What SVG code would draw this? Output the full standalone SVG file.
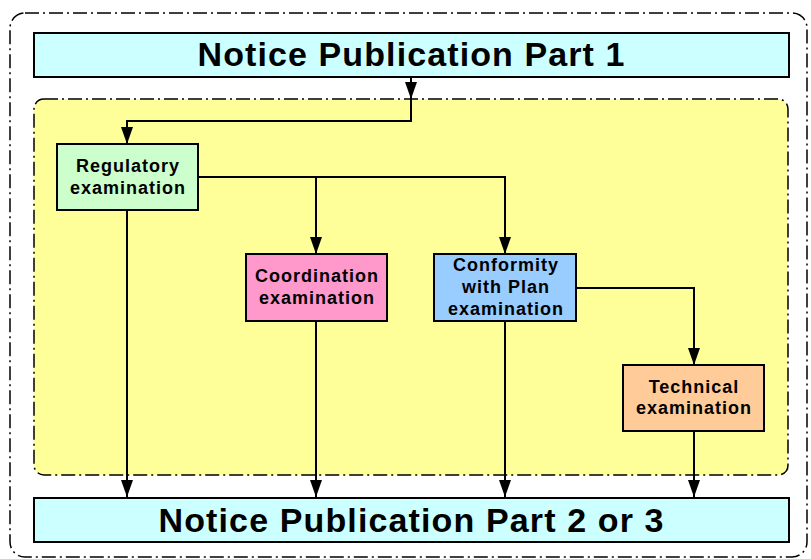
<svg xmlns="http://www.w3.org/2000/svg" width="811" height="559" viewBox="0 0 811 559">
<style>
.frame{fill:none;stroke:#000;stroke-width:1.5;stroke-dasharray:14 4 2 4}
.zone{fill:#ffff99;stroke:#000;stroke-width:1.5;stroke-dasharray:14 4 2 4}
.box{stroke:#000;stroke-width:2}
.big{font-family:"Liberation Sans",Arial,sans-serif;font-weight:bold;font-size:34px;fill:#000;text-anchor:middle}
.lbl{font-family:"Liberation Sans",Arial,sans-serif;font-weight:bold;font-size:18px;letter-spacing:1px;fill:#000;text-anchor:middle}
.conn{fill:none;stroke:#000;stroke-width:2}
</style>
<defs>
<marker id="down" markerUnits="userSpaceOnUse" markerWidth="18" markerHeight="12" refX="17" refY="6" orient="auto" viewBox="0 0 18 12">
<path d="M0,0 L17,6 L0,12 Z" fill="#000"/>
</marker>
</defs>
<rect class="frame" x="10" y="13" width="797" height="544" rx="15"/>
<rect class="zone" x="34" y="99" width="754" height="376" rx="10"/>
<g id="connectors">
<path class="conn" d="M411,77 V99" marker-end="url(#down)"/>
<path class="conn" d="M411,99 V121 H127 V144" marker-end="url(#down)"/>
<path class="conn" d="M198,177 H505 V254" marker-end="url(#down)"/>
<path class="conn" d="M316,177 V254" marker-end="url(#down)"/>
<path class="conn" d="M576,288 H694 V365" marker-end="url(#down)"/>
<path class="conn" d="M127,210 V497" marker-end="url(#down)"/>
<path class="conn" d="M316,321 V497" marker-end="url(#down)"/>
<path class="conn" d="M505,321 V497" marker-end="url(#down)"/>
<path class="conn" d="M694,431 V497" marker-end="url(#down)"/>
</g>
<g id="part1">
<rect class="box" x="34" y="33" width="755" height="44" fill="#ccffff"/>
<text class="big" x="411" y="66" textLength="427" lengthAdjust="spacing">Notice Publication Part 1</text>
</g>
<g id="regulatory">
<rect class="box" x="57" y="144" width="141" height="66" fill="#ccffcc"/>
<text class="lbl" x="128" y="172">Regulatory</text>
<text class="lbl" x="128" y="194">examination</text>
</g>
<g id="coordination">
<rect class="box" x="246" y="254" width="141" height="67" fill="#ff99cc"/>
<text class="lbl" x="317" y="282">Coordination</text>
<text class="lbl" x="317" y="304">examination</text>
</g>
<g id="conformity">
<rect class="box" x="434" y="254" width="142" height="67" fill="#99ccff"/>
<text class="lbl" x="506" y="271">Conformity</text>
<text class="lbl" x="506" y="293">with Plan</text>
<text class="lbl" x="506" y="315">examination</text>
</g>
<g id="technical">
<rect class="box" x="623" y="365" width="141" height="66" fill="#ffcc99"/>
<text class="lbl" x="694" y="393">Technical</text>
<text class="lbl" x="694" y="414">examination</text>
</g>
<g id="part23">
<rect class="box" x="34" y="498" width="755" height="44" fill="#ccffff"/>
<text class="big" x="411" y="532" textLength="505" lengthAdjust="spacing">Notice Publication Part 2 or 3</text>
</g>
</svg>
